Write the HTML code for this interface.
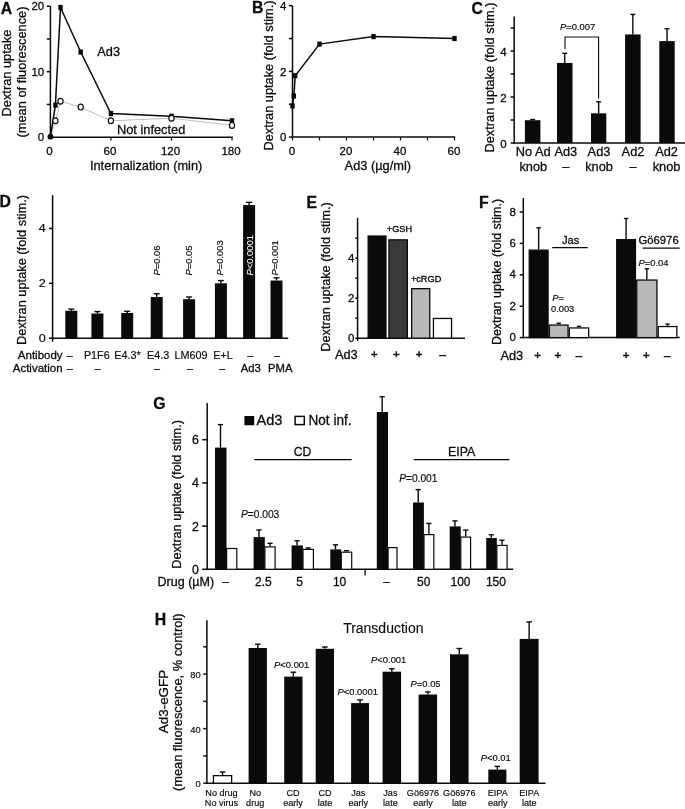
<!DOCTYPE html>
<html><head><meta charset="utf-8"><title>Figure</title>
<style>
html,body{margin:0;padding:0;background:#fff;}
svg{display:block;}
svg text{font-family:"Liberation Sans",Arial,sans-serif;fill:#0a0a0a;stroke:#0a0a0a;}
</style></head><body>
<svg width="685" height="809" viewBox="0 0 685 809">
<rect x="0" y="0" width="685" height="809" fill="#fff"/>
<text x="0.8" y="13.7" font-size="15.8" stroke-width="0.28" font-weight="bold">A</text>
<line x1="50.4" y1="137.95" x2="50.4" y2="6.2" stroke="#0a0a0a" stroke-width="1.5"/>
<line x1="46.8" y1="104.45" x2="50.4" y2="104.45" stroke="#0a0a0a" stroke-width="1.5"/>
<line x1="46.8" y1="71.7" x2="50.4" y2="71.7" stroke="#0a0a0a" stroke-width="1.5"/>
<line x1="46.8" y1="38.95" x2="50.4" y2="38.95" stroke="#0a0a0a" stroke-width="1.5"/>
<line x1="46.8" y1="6.2" x2="50.4" y2="6.2" stroke="#0a0a0a" stroke-width="1.5"/>
<text x="44.2" y="141.34" font-size="11.5" stroke-width="0.28" text-anchor="end">0</text>
<text x="44.2" y="75.84" font-size="11.5" stroke-width="0.28" text-anchor="end">10</text>
<text x="44.2" y="10.34" font-size="11.5" stroke-width="0.28" text-anchor="end">20</text>
<line x1="49.65" y1="137.2" x2="232.72" y2="137.2" stroke="#0a0a0a" stroke-width="1.5"/>
<line x1="110.94" y1="137.2" x2="110.94" y2="140.6" stroke="#0a0a0a" stroke-width="1.2"/>
<line x1="171.48" y1="137.2" x2="171.48" y2="140.6" stroke="#0a0a0a" stroke-width="1.2"/>
<line x1="232.02" y1="137.2" x2="232.02" y2="140.6" stroke="#0a0a0a" stroke-width="1.2"/>
<text x="49.4" y="155.4" font-size="11.5" stroke-width="0.28" text-anchor="middle">0</text>
<text x="109.94" y="155.4" font-size="11.5" stroke-width="0.28" text-anchor="middle">60</text>
<text x="170.48" y="155.4" font-size="11.5" stroke-width="0.28" text-anchor="middle">120</text>
<text x="231.02" y="155.4" font-size="11.5" stroke-width="0.28" text-anchor="middle">180</text>
<text x="146.1" y="170.1" font-size="12.8" stroke-width="0.28" text-anchor="middle">Internalization (min)</text>
<text x="11" y="73" font-size="12.8" stroke-width="0.28" text-anchor="middle" transform="rotate(-90 11 73)">Dextran uptake</text>
<text x="26.3" y="72" font-size="12.8" stroke-width="0.28" text-anchor="middle" transform="rotate(-90 26.3 72)">(mean of fluorescence)</text>
<polyline fill="none" stroke="#b5b5b5" stroke-width="0.9" points="50.4,137.2 55.4,120.8 60.5,101.2 80.7,107.1 110.9,120.8 171.5,118.2 232.0,125.4"/>
<polyline fill="none" stroke="#0a0a0a" stroke-width="1.5" points="50.4,137.2 55.4,105.1 60.5,7.5 80.7,52.0 110.9,113.6 171.5,116.2 232.0,120.8"/>
<rect x="53.24" y="102.5" width="4.4" height="5.2" fill="#0a0a0a"/>
<rect x="58.29" y="4.91" width="4.4" height="5.2" fill="#0a0a0a"/>
<rect x="78.47" y="49.45" width="4.4" height="5.2" fill="#0a0a0a"/>
<rect x="108.74" y="111.02" width="4.4" height="5.2" fill="#0a0a0a"/>
<rect x="169.28" y="113.64" width="4.4" height="5.2" fill="#0a0a0a"/>
<rect x="229.82" y="118.22" width="4.4" height="5.2" fill="#0a0a0a"/>
<ellipse cx="55.4" cy="120.8" rx="2.6" ry="2.9" fill="#fff" stroke="#0a0a0a" stroke-width="1.2"/>
<ellipse cx="60.5" cy="101.2" rx="2.6" ry="2.9" fill="#fff" stroke="#0a0a0a" stroke-width="1.2"/>
<ellipse cx="80.7" cy="107.1" rx="2.6" ry="2.9" fill="#fff" stroke="#0a0a0a" stroke-width="1.2"/>
<ellipse cx="110.9" cy="120.8" rx="2.6" ry="2.9" fill="#fff" stroke="#0a0a0a" stroke-width="1.2"/>
<ellipse cx="171.5" cy="118.2" rx="2.6" ry="2.9" fill="#fff" stroke="#0a0a0a" stroke-width="1.2"/>
<ellipse cx="232.0" cy="125.4" rx="2.6" ry="2.9" fill="#fff" stroke="#0a0a0a" stroke-width="1.2"/>
<circle cx="50.4" cy="136.7" r="2.9" fill="#0a0a0a"/>
<text x="97.3" y="56" font-size="12.8" stroke-width="0.28">Ad3</text>
<text x="117" y="133.5" font-size="12.8" stroke-width="0.28">Not infected</text>
<text x="252" y="12.9" font-size="15.8" stroke-width="0.28" font-weight="bold">B</text>
<line x1="292.5" y1="137.85" x2="292.5" y2="5.7" stroke="#0a0a0a" stroke-width="1.5"/>
<line x1="288.9" y1="137.1" x2="292.5" y2="137.1" stroke="#0a0a0a" stroke-width="1.5"/>
<line x1="288.9" y1="104.25" x2="292.5" y2="104.25" stroke="#0a0a0a" stroke-width="1.5"/>
<line x1="288.9" y1="71.4" x2="292.5" y2="71.4" stroke="#0a0a0a" stroke-width="1.5"/>
<line x1="288.9" y1="38.55" x2="292.5" y2="38.55" stroke="#0a0a0a" stroke-width="1.5"/>
<line x1="288.9" y1="5.7" x2="292.5" y2="5.7" stroke="#0a0a0a" stroke-width="1.5"/>
<text x="286.3" y="141.24" font-size="11.5" stroke-width="0.28" text-anchor="end">0</text>
<text x="286.3" y="75.54" font-size="11.5" stroke-width="0.28" text-anchor="end">2</text>
<text x="286.3" y="9.84" font-size="11.5" stroke-width="0.28" text-anchor="end">4</text>
<line x1="291.75" y1="137.1" x2="455.2" y2="137.1" stroke="#0a0a0a" stroke-width="1.5"/>
<line x1="292.5" y1="137.1" x2="292.5" y2="140.5" stroke="#0a0a0a" stroke-width="1.2"/>
<line x1="319.5" y1="137.1" x2="319.5" y2="140.5" stroke="#0a0a0a" stroke-width="1.2"/>
<line x1="346.5" y1="137.1" x2="346.5" y2="140.5" stroke="#0a0a0a" stroke-width="1.2"/>
<line x1="373.5" y1="137.1" x2="373.5" y2="140.5" stroke="#0a0a0a" stroke-width="1.2"/>
<line x1="400.5" y1="137.1" x2="400.5" y2="140.5" stroke="#0a0a0a" stroke-width="1.2"/>
<line x1="427.5" y1="137.1" x2="427.5" y2="140.5" stroke="#0a0a0a" stroke-width="1.2"/>
<line x1="454.5" y1="137.1" x2="454.5" y2="140.5" stroke="#0a0a0a" stroke-width="1.2"/>
<text x="292" y="155.1" font-size="11.5" stroke-width="0.28" text-anchor="middle">0</text>
<text x="346" y="155.1" font-size="11.5" stroke-width="0.28" text-anchor="middle">20</text>
<text x="400" y="155.1" font-size="11.5" stroke-width="0.28" text-anchor="middle">40</text>
<text x="454" y="155.1" font-size="11.5" stroke-width="0.28" text-anchor="middle">60</text>
<text x="377.8" y="169.9" font-size="12.8" stroke-width="0.28" text-anchor="middle">Ad3 (µg/ml)</text>
<text x="273.2" y="75.5" font-size="12.8" stroke-width="0.28" text-anchor="middle" transform="rotate(-90 273.2 75.5)">Dextran uptake (fold stim.)</text>
<polyline fill="none" stroke="#0a0a0a" stroke-width="1.5" points="292.5,105.9 293.9,96.0 295.2,75.7 319.5,44.1 373.5,36.6 454.5,38.5"/>
<rect x="290.3" y="103.29" width="4.4" height="5.2" fill="#0a0a0a"/>
<rect x="291.65" y="93.44" width="4.4" height="5.2" fill="#0a0a0a"/>
<rect x="293" y="73.07" width="4.4" height="5.2" fill="#0a0a0a"/>
<rect x="317.3" y="41.53" width="4.4" height="5.2" fill="#0a0a0a"/>
<rect x="371.3" y="33.98" width="4.4" height="5.2" fill="#0a0a0a"/>
<rect x="452.3" y="35.95" width="4.4" height="5.2" fill="#0a0a0a"/>
<text x="471.5" y="13.5" font-size="15.8" stroke-width="0.28" font-weight="bold">C</text>
<line x1="514.2" y1="143.75" x2="514.2" y2="16.4" stroke="#0a0a0a" stroke-width="1.5"/>
<line x1="510.6" y1="143" x2="514.2" y2="143" stroke="#0a0a0a" stroke-width="1.5"/>
<line x1="510.6" y1="120" x2="514.2" y2="120" stroke="#0a0a0a" stroke-width="1.5"/>
<line x1="510.6" y1="97" x2="514.2" y2="97" stroke="#0a0a0a" stroke-width="1.5"/>
<line x1="510.6" y1="74" x2="514.2" y2="74" stroke="#0a0a0a" stroke-width="1.5"/>
<line x1="510.6" y1="51" x2="514.2" y2="51" stroke="#0a0a0a" stroke-width="1.5"/>
<line x1="510.6" y1="28" x2="514.2" y2="28" stroke="#0a0a0a" stroke-width="1.5"/>
<text x="506.7" y="147.64" font-size="11.5" stroke-width="0.28" text-anchor="end">0</text>
<text x="506.7" y="101.64" font-size="11.5" stroke-width="0.28" text-anchor="end">2</text>
<text x="506.7" y="55.64" font-size="11.5" stroke-width="0.28" text-anchor="end">4</text>
<line x1="513.45" y1="143" x2="685" y2="143" stroke="#0a0a0a" stroke-width="1.5"/>
<text x="494.2" y="77.5" font-size="12.8" stroke-width="0.28" text-anchor="middle" transform="rotate(-90 494.2 77.5)">Dextran uptake (fold stim.)</text>
<rect x="524.9" y="120.23" width="15.5" height="22.77" fill="#0a0a0a"/>
<line x1="532.65" y1="120.23" x2="532.65" y2="119.54" stroke="#0a0a0a" stroke-width="1.4"/>
<line x1="530.15" y1="119.54" x2="535.15" y2="119.54" stroke="#0a0a0a" stroke-width="1.4"/>
<rect x="557" y="62.96" width="15.5" height="80.04" fill="#0a0a0a"/>
<line x1="564.75" y1="62.96" x2="564.75" y2="53.3" stroke="#0a0a0a" stroke-width="1.4"/>
<line x1="562.25" y1="53.3" x2="567.25" y2="53.3" stroke="#0a0a0a" stroke-width="1.4"/>
<rect x="591" y="113.33" width="15.3" height="29.67" fill="#0a0a0a"/>
<line x1="598.65" y1="113.33" x2="598.65" y2="101.83" stroke="#0a0a0a" stroke-width="1.4"/>
<line x1="596.15" y1="101.83" x2="601.15" y2="101.83" stroke="#0a0a0a" stroke-width="1.4"/>
<rect x="625.1" y="34.44" width="15.5" height="108.56" fill="#0a0a0a"/>
<line x1="632.85" y1="34.44" x2="632.85" y2="14.43" stroke="#0a0a0a" stroke-width="1.4"/>
<line x1="630.35" y1="14.43" x2="635.35" y2="14.43" stroke="#0a0a0a" stroke-width="1.4"/>
<rect x="659.3" y="41.11" width="15.4" height="101.89" fill="#0a0a0a"/>
<line x1="667" y1="41.11" x2="667" y2="28.69" stroke="#0a0a0a" stroke-width="1.4"/>
<line x1="664.5" y1="28.69" x2="669.5" y2="28.69" stroke="#0a0a0a" stroke-width="1.4"/>
<polyline fill="none" stroke="#0a0a0a" stroke-width="1.1" points="565,49.3 565,37 598.6,37 598.6,98.5"/>
<text x="560" y="29.8" font-size="9.4" stroke-width="0.16"><tspan font-style="italic">P</tspan>=0.007</text>
<text x="533.3" y="155.6" font-size="12.8" stroke-width="0.28" text-anchor="middle">No Ad</text>
<text x="533.3" y="170.6" font-size="12.8" stroke-width="0.28" text-anchor="middle">knob</text>
<text x="565.8" y="155.6" font-size="12.8" stroke-width="0.28" text-anchor="middle">Ad3</text>
<text x="565.8" y="170.6" font-size="12.8" stroke-width="0.28" text-anchor="middle">–</text>
<text x="599" y="155.6" font-size="12.8" stroke-width="0.28" text-anchor="middle">Ad3</text>
<text x="599" y="170.6" font-size="12.8" stroke-width="0.28" text-anchor="middle">knob</text>
<text x="633" y="155.6" font-size="12.8" stroke-width="0.28" text-anchor="middle">Ad2</text>
<text x="633" y="170.6" font-size="12.8" stroke-width="0.28" text-anchor="middle">–</text>
<text x="666.6" y="155.6" font-size="12.8" stroke-width="0.28" text-anchor="middle">Ad2</text>
<text x="666.6" y="170.6" font-size="12.8" stroke-width="0.28" text-anchor="middle">knob</text>
<text x="-0.5" y="206.5" font-size="15.8" stroke-width="0.28" font-weight="bold">D</text>
<line x1="52.6" y1="341.75" x2="52.6" y2="195.2" stroke="#0a0a0a" stroke-width="1.5"/>
<line x1="49" y1="338.2" x2="52.6" y2="338.2" stroke="#0a0a0a" stroke-width="1.5"/>
<line x1="49" y1="283.3" x2="52.6" y2="283.3" stroke="#0a0a0a" stroke-width="1.5"/>
<line x1="49" y1="228.4" x2="52.6" y2="228.4" stroke="#0a0a0a" stroke-width="1.5"/>
<text x="45.8" y="341.87" font-size="10.2" stroke-width="0.16" text-anchor="end" textLength="7" lengthAdjust="spacingAndGlyphs">0</text>
<text x="45.8" y="286.97" font-size="10.2" stroke-width="0.16" text-anchor="end" textLength="7" lengthAdjust="spacingAndGlyphs">2</text>
<text x="45.8" y="232.07" font-size="10.2" stroke-width="0.16" text-anchor="end" textLength="7" lengthAdjust="spacingAndGlyphs">4</text>
<line x1="51.85" y1="338.2" x2="288.2" y2="338.2" stroke="#0a0a0a" stroke-width="1.5"/>
<text x="25.9" y="270" font-size="12.8" stroke-width="0.28" text-anchor="middle" transform="rotate(-90 25.9 270)">Dextran uptake (fold stim.)</text>
<rect x="65.3" y="310.75" width="12" height="27.45" fill="#0a0a0a"/>
<line x1="71.3" y1="310.75" x2="71.3" y2="309.1" stroke="#0a0a0a" stroke-width="1.4"/>
<line x1="68.3" y1="309.1" x2="74.3" y2="309.1" stroke="#0a0a0a" stroke-width="1.4"/>
<rect x="91.4" y="313.5" width="12" height="24.7" fill="#0a0a0a"/>
<line x1="97.4" y1="313.5" x2="97.4" y2="311.57" stroke="#0a0a0a" stroke-width="1.4"/>
<line x1="94.4" y1="311.57" x2="100.4" y2="311.57" stroke="#0a0a0a" stroke-width="1.4"/>
<rect x="121.2" y="312.95" width="12" height="25.25" fill="#0a0a0a"/>
<line x1="127.2" y1="312.95" x2="127.2" y2="311.3" stroke="#0a0a0a" stroke-width="1.4"/>
<line x1="124.2" y1="311.3" x2="130.2" y2="311.3" stroke="#0a0a0a" stroke-width="1.4"/>
<rect x="150.7" y="297.02" width="12" height="41.18" fill="#0a0a0a"/>
<line x1="156.7" y1="297.02" x2="156.7" y2="293.73" stroke="#0a0a0a" stroke-width="1.4"/>
<line x1="153.7" y1="293.73" x2="159.7" y2="293.73" stroke="#0a0a0a" stroke-width="1.4"/>
<rect x="183.1" y="299.22" width="12" height="38.98" fill="#0a0a0a"/>
<line x1="189.1" y1="299.22" x2="189.1" y2="297.02" stroke="#0a0a0a" stroke-width="1.4"/>
<line x1="186.1" y1="297.02" x2="192.1" y2="297.02" stroke="#0a0a0a" stroke-width="1.4"/>
<rect x="214.9" y="283.3" width="12" height="54.9" fill="#0a0a0a"/>
<line x1="220.9" y1="283.3" x2="220.9" y2="280.56" stroke="#0a0a0a" stroke-width="1.4"/>
<line x1="217.9" y1="280.56" x2="223.9" y2="280.56" stroke="#0a0a0a" stroke-width="1.4"/>
<rect x="243.1" y="205.07" width="12" height="133.13" fill="#0a0a0a"/>
<line x1="249.1" y1="205.07" x2="249.1" y2="202.32" stroke="#0a0a0a" stroke-width="1.4"/>
<line x1="246.1" y1="202.32" x2="252.1" y2="202.32" stroke="#0a0a0a" stroke-width="1.4"/>
<rect x="270.5" y="280.56" width="12" height="57.64" fill="#0a0a0a"/>
<line x1="276.5" y1="280.56" x2="276.5" y2="277.81" stroke="#0a0a0a" stroke-width="1.4"/>
<line x1="273.5" y1="277.81" x2="279.5" y2="277.81" stroke="#0a0a0a" stroke-width="1.4"/>
<text x="159.9" y="275.5" font-size="9.4" stroke-width="0.16" transform="rotate(-90 159.9 275.5)"><tspan font-style="italic">P</tspan>=0.06</text>
<text x="191.9" y="275.5" font-size="9.4" stroke-width="0.16" transform="rotate(-90 191.9 275.5)"><tspan font-style="italic">P</tspan>=0.05</text>
<text x="222.9" y="275.5" font-size="9.4" stroke-width="0.16" transform="rotate(-90 222.9 275.5)"><tspan font-style="italic">P</tspan>=0.003</text>
<text x="253.3" y="275.5" font-size="9.4" stroke-width="0.1" style="fill:#fff;stroke:#fff" transform="rotate(-90 253.3 275.5)"><tspan font-style="italic">P</tspan>&lt;0.0001</text>
<text x="277.9" y="275.5" font-size="9.4" stroke-width="0.16" transform="rotate(-90 277.9 275.5)"><tspan font-style="italic">P</tspan>=0.001</text>
<text x="62.6" y="358.6" font-size="11.5" stroke-width="0.28" text-anchor="end">Antibody</text>
<text x="62.6" y="371.8" font-size="11.5" stroke-width="0.28" text-anchor="end">Activation</text>
<text x="69.8" y="358.6" font-size="10.8" stroke-width="0.16" text-anchor="middle">–</text>
<text x="96.8" y="358.6" font-size="10.8" stroke-width="0.16" text-anchor="middle">P1F6</text>
<text x="127.5" y="358.6" font-size="10.8" stroke-width="0.16" text-anchor="middle">E4.3*</text>
<text x="158.2" y="358.6" font-size="10.8" stroke-width="0.16" text-anchor="middle">E4.3</text>
<text x="190.9" y="358.6" font-size="10.8" stroke-width="0.16" text-anchor="middle">LM609</text>
<text x="223" y="358.6" font-size="10.8" stroke-width="0.16" text-anchor="middle">E+L</text>
<text x="250.2" y="358.6" font-size="10.8" stroke-width="0.16" text-anchor="middle">–</text>
<text x="277" y="358.6" font-size="10.8" stroke-width="0.16" text-anchor="middle">–</text>
<text x="69.8" y="371.8" font-size="10.8" stroke-width="0.16" text-anchor="middle">–</text>
<text x="97.4" y="371.8" font-size="10.8" stroke-width="0.16" text-anchor="middle">–</text>
<text x="157" y="371.8" font-size="10.8" stroke-width="0.16" text-anchor="middle">–</text>
<text x="190" y="371.8" font-size="10.8" stroke-width="0.16" text-anchor="middle">–</text>
<text x="222.3" y="371.8" font-size="10.8" stroke-width="0.16" text-anchor="middle">–</text>
<text x="250.7" y="371.8" font-size="11.3" stroke-width="0.28" text-anchor="middle">Ad3</text>
<text x="280.2" y="371.8" font-size="11.3" stroke-width="0.28" text-anchor="middle">PMA</text>
<text x="306.5" y="207.8" font-size="15.8" stroke-width="0.28" font-weight="bold">E</text>
<line x1="357.6" y1="340.95" x2="357.6" y2="217.8" stroke="#0a0a0a" stroke-width="1.5"/>
<line x1="355.3" y1="338.2" x2="357.6" y2="338.2" stroke="#0a0a0a" stroke-width="1.5"/>
<line x1="355.3" y1="318.2" x2="357.6" y2="318.2" stroke="#0a0a0a" stroke-width="1.5"/>
<line x1="355.3" y1="298.2" x2="357.6" y2="298.2" stroke="#0a0a0a" stroke-width="1.5"/>
<line x1="355.3" y1="278.2" x2="357.6" y2="278.2" stroke="#0a0a0a" stroke-width="1.5"/>
<line x1="355.3" y1="258.2" x2="357.6" y2="258.2" stroke="#0a0a0a" stroke-width="1.5"/>
<line x1="355.3" y1="238.2" x2="357.6" y2="238.2" stroke="#0a0a0a" stroke-width="1.5"/>
<text x="354.4" y="342.34" font-size="11.5" stroke-width="0.28" text-anchor="end">0</text>
<text x="354.4" y="302.34" font-size="11.5" stroke-width="0.28" text-anchor="end">2</text>
<text x="354.4" y="262.34" font-size="11.5" stroke-width="0.28" text-anchor="end">4</text>
<line x1="356.85" y1="338.2" x2="465" y2="338.2" stroke="#0a0a0a" stroke-width="1.5"/>
<text x="330.1" y="277" font-size="12.8" stroke-width="0.28" text-anchor="middle" transform="rotate(-90 330.1 277)" textLength="149.4" lengthAdjust="spacingAndGlyphs">Dextran uptake (fold stim.)</text>
<rect x="368.15" y="236.05" width="17.8" height="102.15" fill="#0a0a0a" stroke="#0a0a0a" stroke-width="1.3"/>
<rect x="388.95" y="239.85" width="18.4" height="98.35" fill="#3a3a3a" stroke="#0a0a0a" stroke-width="1.3"/>
<rect x="411.65" y="288.65" width="18.1" height="49.55" fill="#b8b8b8" stroke="#0a0a0a" stroke-width="1.3"/>
<rect x="433.45" y="318.45" width="18.1" height="19.75" fill="#fff" stroke="#0a0a0a" stroke-width="1.3"/>
<text x="386.8" y="231.7" font-size="9.2" stroke-width="0.35">+GSH</text>
<text x="410.9" y="281.8" font-size="9.2" stroke-width="0.35">+cRGD</text>
<text x="334.9" y="358.8" font-size="12.8" stroke-width="0.28" textLength="22.8" lengthAdjust="spacingAndGlyphs">Ad3</text>
<text x="374.4" y="357.9" font-size="11.4" stroke-width="0.5" text-anchor="middle">+</text>
<text x="396.3" y="357.9" font-size="11.4" stroke-width="0.5" text-anchor="middle">+</text>
<text x="419.1" y="357.9" font-size="11.4" stroke-width="0.5" text-anchor="middle">+</text>
<text x="442.7" y="357.9" font-size="11.4" stroke-width="0.5" text-anchor="middle">–</text>
<text x="479" y="208" font-size="15.8" stroke-width="0.28" font-weight="bold">F</text>
<line x1="523.3" y1="338.35" x2="523.3" y2="198.1" stroke="#0a0a0a" stroke-width="1.5"/>
<line x1="519.7" y1="337.6" x2="523.3" y2="337.6" stroke="#0a0a0a" stroke-width="1.5"/>
<line x1="519.7" y1="306.2" x2="523.3" y2="306.2" stroke="#0a0a0a" stroke-width="1.5"/>
<line x1="519.7" y1="274.8" x2="523.3" y2="274.8" stroke="#0a0a0a" stroke-width="1.5"/>
<line x1="519.7" y1="243.4" x2="523.3" y2="243.4" stroke="#0a0a0a" stroke-width="1.5"/>
<line x1="519.7" y1="212" x2="523.3" y2="212" stroke="#0a0a0a" stroke-width="1.5"/>
<text x="516" y="341.24" font-size="11.5" stroke-width="0.28" text-anchor="end">0</text>
<text x="516" y="309.84" font-size="11.5" stroke-width="0.28" text-anchor="end">2</text>
<text x="516" y="278.44" font-size="11.5" stroke-width="0.28" text-anchor="end">4</text>
<text x="516" y="247.04" font-size="11.5" stroke-width="0.28" text-anchor="end">6</text>
<text x="516" y="215.64" font-size="11.5" stroke-width="0.28" text-anchor="end">8</text>
<line x1="522.55" y1="337.6" x2="679.7" y2="337.6" stroke="#0a0a0a" stroke-width="1.5"/>
<text x="501.4" y="272" font-size="12.8" stroke-width="0.28" text-anchor="middle" transform="rotate(-90 501.4 272)" textLength="146.2" lengthAdjust="spacingAndGlyphs">Dextran uptake (fold stim.)</text>
<rect x="529.25" y="250.15" width="18.8" height="87.45" fill="#0a0a0a" stroke="#0a0a0a" stroke-width="1.3"/>
<line x1="538.65" y1="249.5" x2="538.65" y2="227.8" stroke="#0a0a0a" stroke-width="1.4"/>
<line x1="536.45" y1="227.8" x2="540.85" y2="227.8" stroke="#0a0a0a" stroke-width="1.4"/>
<rect x="549.35" y="325.05" width="18.7" height="12.55" fill="#b8b8b8" stroke="#0a0a0a" stroke-width="1.3"/>
<line x1="558.7" y1="324.4" x2="558.7" y2="323.2" stroke="#0a0a0a" stroke-width="1.4"/>
<line x1="556.5" y1="323.2" x2="560.9" y2="323.2" stroke="#0a0a0a" stroke-width="1.4"/>
<rect x="569.35" y="327.95" width="19.3" height="9.65" fill="#fff" stroke="#0a0a0a" stroke-width="1.3"/>
<line x1="579" y1="327.3" x2="579" y2="326.4" stroke="#0a0a0a" stroke-width="1.4"/>
<line x1="576.8" y1="326.4" x2="581.2" y2="326.4" stroke="#0a0a0a" stroke-width="1.4"/>
<rect x="616.75" y="239.65" width="18.7" height="97.95" fill="#0a0a0a" stroke="#0a0a0a" stroke-width="1.3"/>
<line x1="626.1" y1="239" x2="626.1" y2="218.5" stroke="#0a0a0a" stroke-width="1.4"/>
<line x1="623.9" y1="218.5" x2="628.3" y2="218.5" stroke="#0a0a0a" stroke-width="1.4"/>
<rect x="636.75" y="280.05" width="20.2" height="57.55" fill="#b8b8b8" stroke="#0a0a0a" stroke-width="1.3"/>
<line x1="646.85" y1="279.4" x2="646.85" y2="268.8" stroke="#0a0a0a" stroke-width="1.4"/>
<line x1="644.65" y1="268.8" x2="649.05" y2="268.8" stroke="#0a0a0a" stroke-width="1.4"/>
<rect x="658.25" y="326.55" width="18.6" height="11.05" fill="#fff" stroke="#0a0a0a" stroke-width="1.3"/>
<line x1="667.55" y1="325.9" x2="667.55" y2="324.1" stroke="#0a0a0a" stroke-width="1.4"/>
<line x1="665.35" y1="324.1" x2="669.75" y2="324.1" stroke="#0a0a0a" stroke-width="1.4"/>
<line x1="552.2" y1="247.6" x2="587.7" y2="247.6" stroke="#0a0a0a" stroke-width="1.3"/>
<text x="570.6" y="243.6" font-size="11.2" stroke-width="0.28" text-anchor="middle">Jas</text>
<line x1="642.6" y1="248.2" x2="679.7" y2="248.2" stroke="#0a0a0a" stroke-width="1.3"/>
<text x="658.6" y="243.6" font-size="11.3" stroke-width="0.28" text-anchor="middle">Gö6976</text>
<text x="552.2" y="300.6" font-size="9.3" stroke-width="0.16"><tspan font-style="italic">P</tspan>=</text>
<text x="551" y="312.4" font-size="9.3" stroke-width="0.16">0.003</text>
<text x="638.5" y="265.6" font-size="9.4" stroke-width="0.16"><tspan font-style="italic">P</tspan>=0.04</text>
<text x="500.4" y="360.2" font-size="12.8" stroke-width="0.28">Ad3</text>
<text x="537.5" y="359.4" font-size="11.4" stroke-width="0.5" text-anchor="middle">+</text>
<text x="557.9" y="359.4" font-size="11.4" stroke-width="0.5" text-anchor="middle">+</text>
<text x="578.9" y="359.4" font-size="11.4" stroke-width="0.5" text-anchor="middle">–</text>
<text x="626" y="359.4" font-size="11.4" stroke-width="0.5" text-anchor="middle">+</text>
<text x="646.4" y="359.4" font-size="11.4" stroke-width="0.5" text-anchor="middle">+</text>
<text x="667.1" y="359.4" font-size="11.4" stroke-width="0.5" text-anchor="middle">–</text>
<text x="153.2" y="409" font-size="15.8" stroke-width="0.28" font-weight="bold">G</text>
<line x1="207.2" y1="570.05" x2="207.2" y2="402.9" stroke="#0a0a0a" stroke-width="1.5"/>
<line x1="202.2" y1="569.3" x2="207.2" y2="569.3" stroke="#0a0a0a" stroke-width="1.5"/>
<line x1="202.2" y1="526.1" x2="207.2" y2="526.1" stroke="#0a0a0a" stroke-width="1.5"/>
<line x1="202.2" y1="482.9" x2="207.2" y2="482.9" stroke="#0a0a0a" stroke-width="1.5"/>
<line x1="202.2" y1="439.7" x2="207.2" y2="439.7" stroke="#0a0a0a" stroke-width="1.5"/>
<text x="198.8" y="573.76" font-size="12.4" stroke-width="0.28" text-anchor="end">0</text>
<text x="198.8" y="530.56" font-size="12.4" stroke-width="0.28" text-anchor="end">2</text>
<text x="198.8" y="487.36" font-size="12.4" stroke-width="0.28" text-anchor="end">4</text>
<text x="198.8" y="444.16" font-size="12.4" stroke-width="0.28" text-anchor="end">6</text>
<line x1="206.45" y1="569.3" x2="513.2" y2="569.3" stroke="#0a0a0a" stroke-width="1.5"/>
<text x="180.7" y="494.4" font-size="12.8" stroke-width="0.28" text-anchor="middle" transform="rotate(-90 180.7 494.4)" textLength="148.7" lengthAdjust="spacingAndGlyphs">Dextran uptake (fold stim.)</text>
<rect x="215" y="447.6" width="11.5" height="121.7" fill="#0a0a0a"/>
<line x1="220.5" y1="447.6" x2="220.5" y2="424.6" stroke="#0a0a0a" stroke-width="1.4"/>
<line x1="217.9" y1="424.6" x2="223.1" y2="424.6" stroke="#0a0a0a" stroke-width="1.4"/>
<rect x="226.6" y="548.5" width="10.2" height="20.8" fill="#fff" stroke="#0a0a0a" stroke-width="1.2"/>
<rect x="253.6" y="537.1" width="11.2" height="32.2" fill="#0a0a0a"/>
<line x1="258.95" y1="537.1" x2="258.95" y2="530" stroke="#0a0a0a" stroke-width="1.4"/>
<line x1="256.35" y1="530" x2="261.55" y2="530" stroke="#0a0a0a" stroke-width="1.4"/>
<rect x="264.9" y="546.9" width="10.2" height="22.4" fill="#fff" stroke="#0a0a0a" stroke-width="1.2"/>
<line x1="270" y1="546.3" x2="270" y2="543.3" stroke="#0a0a0a" stroke-width="1.4"/>
<line x1="267.4" y1="543.3" x2="272.6" y2="543.3" stroke="#0a0a0a" stroke-width="1.4"/>
<rect x="291.6" y="545.4" width="11.3" height="23.9" fill="#0a0a0a"/>
<line x1="297" y1="545.4" x2="297" y2="540.8" stroke="#0a0a0a" stroke-width="1.4"/>
<line x1="294.4" y1="540.8" x2="299.6" y2="540.8" stroke="#0a0a0a" stroke-width="1.4"/>
<rect x="303" y="549.4" width="10.4" height="19.9" fill="#fff" stroke="#0a0a0a" stroke-width="1.2"/>
<line x1="308.2" y1="548.8" x2="308.2" y2="547.9" stroke="#0a0a0a" stroke-width="1.4"/>
<line x1="305.6" y1="547.9" x2="310.8" y2="547.9" stroke="#0a0a0a" stroke-width="1.4"/>
<rect x="330.3" y="549.4" width="10.9" height="19.9" fill="#0a0a0a"/>
<line x1="335.5" y1="549.4" x2="335.5" y2="544.8" stroke="#0a0a0a" stroke-width="1.4"/>
<line x1="332.9" y1="544.8" x2="338.1" y2="544.8" stroke="#0a0a0a" stroke-width="1.4"/>
<rect x="341.3" y="552.2" width="10.4" height="17.1" fill="#fff" stroke="#0a0a0a" stroke-width="1.2"/>
<line x1="346.5" y1="551.6" x2="346.5" y2="550.7" stroke="#0a0a0a" stroke-width="1.4"/>
<line x1="343.9" y1="550.7" x2="349.1" y2="550.7" stroke="#0a0a0a" stroke-width="1.4"/>
<rect x="376.8" y="412" width="11.2" height="157.3" fill="#0a0a0a"/>
<line x1="382.15" y1="412" x2="382.15" y2="396.7" stroke="#0a0a0a" stroke-width="1.4"/>
<line x1="379.55" y1="396.7" x2="384.75" y2="396.7" stroke="#0a0a0a" stroke-width="1.4"/>
<rect x="388.1" y="547.6" width="8.9" height="21.7" fill="#fff" stroke="#0a0a0a" stroke-width="1.2"/>
<rect x="413" y="502.5" width="10.9" height="66.8" fill="#0a0a0a"/>
<line x1="418.2" y1="502.5" x2="418.2" y2="489.6" stroke="#0a0a0a" stroke-width="1.4"/>
<line x1="415.6" y1="489.6" x2="420.8" y2="489.6" stroke="#0a0a0a" stroke-width="1.4"/>
<rect x="424" y="534.6" width="9.8" height="34.7" fill="#fff" stroke="#0a0a0a" stroke-width="1.2"/>
<line x1="428.9" y1="534" x2="428.9" y2="523.4" stroke="#0a0a0a" stroke-width="1.4"/>
<line x1="426.3" y1="523.4" x2="431.5" y2="523.4" stroke="#0a0a0a" stroke-width="1.4"/>
<rect x="449.7" y="526.4" width="11" height="42.9" fill="#0a0a0a"/>
<line x1="454.95" y1="526.4" x2="454.95" y2="520.9" stroke="#0a0a0a" stroke-width="1.4"/>
<line x1="452.35" y1="520.9" x2="457.55" y2="520.9" stroke="#0a0a0a" stroke-width="1.4"/>
<rect x="460.8" y="537.1" width="9.8" height="32.2" fill="#fff" stroke="#0a0a0a" stroke-width="1.2"/>
<line x1="465.7" y1="536.5" x2="465.7" y2="530.1" stroke="#0a0a0a" stroke-width="1.4"/>
<line x1="463.1" y1="530.1" x2="468.3" y2="530.1" stroke="#0a0a0a" stroke-width="1.4"/>
<rect x="486.2" y="538" width="10.6" height="31.3" fill="#0a0a0a"/>
<line x1="491.25" y1="538" x2="491.25" y2="534.7" stroke="#0a0a0a" stroke-width="1.4"/>
<line x1="488.65" y1="534.7" x2="493.85" y2="534.7" stroke="#0a0a0a" stroke-width="1.4"/>
<rect x="496.9" y="545.4" width="10.2" height="23.9" fill="#fff" stroke="#0a0a0a" stroke-width="1.2"/>
<line x1="502" y1="544.8" x2="502" y2="540.2" stroke="#0a0a0a" stroke-width="1.4"/>
<line x1="499.4" y1="540.2" x2="504.6" y2="540.2" stroke="#0a0a0a" stroke-width="1.4"/>
<line x1="365.1" y1="569.3" x2="365.1" y2="575.5" stroke="#0a0a0a" stroke-width="1.3"/>
<rect x="244.4" y="416" width="9.8" height="9.3" fill="#0a0a0a"/>
<text x="256.4" y="424.6" font-size="14" stroke-width="0.28" textLength="26" lengthAdjust="spacingAndGlyphs">Ad3</text>
<rect x="295.1" y="416.4" width="9.2" height="8.2" fill="#fff" stroke="#0a0a0a" stroke-width="1.5"/>
<text x="308.5" y="424.6" font-size="14" stroke-width="0.28" textLength="43" lengthAdjust="spacingAndGlyphs">Not inf.</text>
<line x1="254.2" y1="459.6" x2="351.6" y2="459.6" stroke="#0a0a0a" stroke-width="1.3"/>
<text x="302.5" y="456.2" font-size="12.2" stroke-width="0.28" text-anchor="middle">CD</text>
<line x1="413.6" y1="459.6" x2="509.5" y2="459.6" stroke="#0a0a0a" stroke-width="1.3"/>
<text x="461.7" y="455.7" font-size="12.4" stroke-width="0.28" text-anchor="middle">EIPA</text>
<text x="241" y="518.3" font-size="10.2" stroke-width="0.16"><tspan font-style="italic">P</tspan>=0.003</text>
<text x="399.2" y="481.6" font-size="10.2" stroke-width="0.16"><tspan font-style="italic">P</tspan>=0.001</text>
<text x="157.6" y="585.7" font-size="12.5" stroke-width="0.28">Drug (µM)</text>
<text x="225.5" y="585.6" font-size="12" stroke-width="0.28" text-anchor="middle">–</text>
<text x="263.4" y="585.6" font-size="12" stroke-width="0.28" text-anchor="middle">2.5</text>
<text x="299.6" y="585.6" font-size="12" stroke-width="0.28" text-anchor="middle">5</text>
<text x="339.6" y="585.6" font-size="12" stroke-width="0.28" text-anchor="middle">10</text>
<text x="386.6" y="585.6" font-size="12" stroke-width="0.28" text-anchor="middle">–</text>
<text x="423.7" y="585.6" font-size="12" stroke-width="0.28" text-anchor="middle">50</text>
<text x="460.5" y="585.6" font-size="12" stroke-width="0.28" text-anchor="middle">100</text>
<text x="495.9" y="585.6" font-size="12" stroke-width="0.28" text-anchor="middle">150</text>
<text x="154.8" y="625.3" font-size="15.8" stroke-width="0.28" font-weight="bold">H</text>
<line x1="206.9" y1="783.95" x2="206.9" y2="620.2" stroke="#0a0a0a" stroke-width="1.5"/>
<line x1="203.3" y1="783.2" x2="206.9" y2="783.2" stroke="#0a0a0a" stroke-width="1.5"/>
<line x1="203.3" y1="755.92" x2="206.9" y2="755.92" stroke="#0a0a0a" stroke-width="1.5"/>
<line x1="203.3" y1="728.64" x2="206.9" y2="728.64" stroke="#0a0a0a" stroke-width="1.5"/>
<line x1="203.3" y1="701.36" x2="206.9" y2="701.36" stroke="#0a0a0a" stroke-width="1.5"/>
<line x1="203.3" y1="674.08" x2="206.9" y2="674.08" stroke="#0a0a0a" stroke-width="1.5"/>
<line x1="203.3" y1="646.8" x2="206.9" y2="646.8" stroke="#0a0a0a" stroke-width="1.5"/>
<text x="200.7" y="787.18" font-size="9.4" stroke-width="0.16" text-anchor="end">0</text>
<text x="200.7" y="732.62" font-size="9.4" stroke-width="0.16" text-anchor="end">40</text>
<text x="200.7" y="678.06" font-size="9.4" stroke-width="0.16" text-anchor="end">80</text>
<line x1="206.15" y1="783.2" x2="545.5" y2="783.2" stroke="#0a0a0a" stroke-width="1.5"/>
<text x="168.3" y="701.5" font-size="12.8" stroke-width="0.28" text-anchor="middle" transform="rotate(-90 168.3 701.5)" textLength="63.3" lengthAdjust="spacingAndGlyphs">Ad3-eGFP</text>
<text x="182" y="702.3" font-size="12.8" stroke-width="0.28" text-anchor="middle" transform="rotate(-90 182 702.3)" textLength="177.5" lengthAdjust="spacingAndGlyphs">(mean fluorescence, % control)</text>
<text x="383.3" y="633.1" font-size="14" stroke-width="0.12" text-anchor="middle" textLength="80.3" lengthAdjust="spacingAndGlyphs">Transduction</text>
<rect x="213.45" y="775.65" width="18.2" height="7.55" fill="#fff" stroke="#0a0a0a" stroke-width="1.3"/>
<line x1="222.55" y1="775" x2="222.55" y2="772" stroke="#0a0a0a" stroke-width="1.4"/>
<line x1="219.75" y1="772" x2="225.35" y2="772" stroke="#0a0a0a" stroke-width="1.4"/>
<rect x="248.6" y="648" width="18.3" height="135.2" fill="#0a0a0a"/>
<line x1="257.75" y1="648" x2="257.75" y2="644.2" stroke="#0a0a0a" stroke-width="1.4"/>
<line x1="254.95" y1="644.2" x2="260.55" y2="644.2" stroke="#0a0a0a" stroke-width="1.4"/>
<rect x="284.2" y="676.6" width="18.3" height="106.6" fill="#0a0a0a"/>
<line x1="293.35" y1="676.6" x2="293.35" y2="672.2" stroke="#0a0a0a" stroke-width="1.4"/>
<line x1="290.55" y1="672.2" x2="296.15" y2="672.2" stroke="#0a0a0a" stroke-width="1.4"/>
<rect x="315.7" y="648.8" width="18.3" height="134.4" fill="#0a0a0a"/>
<line x1="324.85" y1="648.8" x2="324.85" y2="647" stroke="#0a0a0a" stroke-width="1.4"/>
<line x1="322.05" y1="647" x2="327.65" y2="647" stroke="#0a0a0a" stroke-width="1.4"/>
<rect x="351.1" y="703.1" width="17.9" height="80.1" fill="#0a0a0a"/>
<line x1="360.05" y1="703.1" x2="360.05" y2="699.9" stroke="#0a0a0a" stroke-width="1.4"/>
<line x1="357.25" y1="699.9" x2="362.85" y2="699.9" stroke="#0a0a0a" stroke-width="1.4"/>
<rect x="382.6" y="671.7" width="18.5" height="111.5" fill="#0a0a0a"/>
<line x1="391.85" y1="671.7" x2="391.85" y2="668.8" stroke="#0a0a0a" stroke-width="1.4"/>
<line x1="389.05" y1="668.8" x2="394.65" y2="668.8" stroke="#0a0a0a" stroke-width="1.4"/>
<rect x="418.6" y="694.5" width="18.5" height="88.7" fill="#0a0a0a"/>
<line x1="427.85" y1="694.5" x2="427.85" y2="691.9" stroke="#0a0a0a" stroke-width="1.4"/>
<line x1="425.05" y1="691.9" x2="430.65" y2="691.9" stroke="#0a0a0a" stroke-width="1.4"/>
<rect x="450" y="654.3" width="18.6" height="128.9" fill="#0a0a0a"/>
<line x1="459.3" y1="654.3" x2="459.3" y2="648.5" stroke="#0a0a0a" stroke-width="1.4"/>
<line x1="456.5" y1="648.5" x2="462.1" y2="648.5" stroke="#0a0a0a" stroke-width="1.4"/>
<rect x="488.3" y="769.6" width="18.1" height="13.6" fill="#0a0a0a"/>
<line x1="497.35" y1="769.6" x2="497.35" y2="766.4" stroke="#0a0a0a" stroke-width="1.4"/>
<line x1="494.55" y1="766.4" x2="500.15" y2="766.4" stroke="#0a0a0a" stroke-width="1.4"/>
<rect x="519.7" y="638.9" width="18.9" height="144.3" fill="#0a0a0a"/>
<line x1="529.15" y1="638.9" x2="529.15" y2="621.9" stroke="#0a0a0a" stroke-width="1.4"/>
<line x1="526.35" y1="621.9" x2="531.95" y2="621.9" stroke="#0a0a0a" stroke-width="1.4"/>
<text x="221.5" y="795.5" font-size="9.1" stroke-width="0.16" text-anchor="middle">No drug</text>
<text x="221.5" y="806.4" font-size="9.1" stroke-width="0.16" text-anchor="middle">No virus</text>
<text x="255.2" y="795.5" font-size="9.1" stroke-width="0.16" text-anchor="middle">No</text>
<text x="255.2" y="806.4" font-size="9.1" stroke-width="0.16" text-anchor="middle">drug</text>
<text x="293" y="795.5" font-size="9.1" stroke-width="0.16" text-anchor="middle">CD</text>
<text x="293" y="806.4" font-size="9.1" stroke-width="0.16" text-anchor="middle">early</text>
<text x="325" y="795.5" font-size="9.1" stroke-width="0.16" text-anchor="middle">CD</text>
<text x="325" y="806.4" font-size="9.1" stroke-width="0.16" text-anchor="middle">late</text>
<text x="358.3" y="795.5" font-size="9.1" stroke-width="0.16" text-anchor="middle">Jas</text>
<text x="358.3" y="806.4" font-size="9.1" stroke-width="0.16" text-anchor="middle">early</text>
<text x="390.4" y="795.5" font-size="9.1" stroke-width="0.16" text-anchor="middle">Jas</text>
<text x="390.4" y="806.4" font-size="9.1" stroke-width="0.16" text-anchor="middle">late</text>
<text x="423" y="795.5" font-size="9.1" stroke-width="0.16" text-anchor="middle">Gö6976</text>
<text x="423" y="806.4" font-size="9.1" stroke-width="0.16" text-anchor="middle">early</text>
<text x="459.3" y="795.5" font-size="9.1" stroke-width="0.16" text-anchor="middle">Gö6976</text>
<text x="459.3" y="806.4" font-size="9.1" stroke-width="0.16" text-anchor="middle">late</text>
<text x="497.8" y="795.5" font-size="9.1" stroke-width="0.16" text-anchor="middle">EIPA</text>
<text x="497.8" y="806.4" font-size="9.1" stroke-width="0.16" text-anchor="middle">early</text>
<text x="529.3" y="795.5" font-size="9.1" stroke-width="0.16" text-anchor="middle">EIPA</text>
<text x="529.3" y="806.4" font-size="9.1" stroke-width="0.16" text-anchor="middle">late</text>
<text x="274.1" y="667.5" font-size="9.4" stroke-width="0.16"><tspan font-style="italic">P</tspan>&lt;0.001</text>
<text x="377.9" y="695.1" font-size="9.4" stroke-width="0.16" text-anchor="end"><tspan font-style="italic">P</tspan>&lt;0.0001</text>
<text x="371.1" y="663" font-size="9.4" stroke-width="0.16"><tspan font-style="italic">P</tspan>&lt;0.001</text>
<text x="410.6" y="687.1" font-size="9.4" stroke-width="0.16"><tspan font-style="italic">P</tspan>=0.05</text>
<text x="480.7" y="760.9" font-size="9.4" stroke-width="0.16"><tspan font-style="italic">P</tspan>&lt;0.01</text>
</svg>
</body></html>
